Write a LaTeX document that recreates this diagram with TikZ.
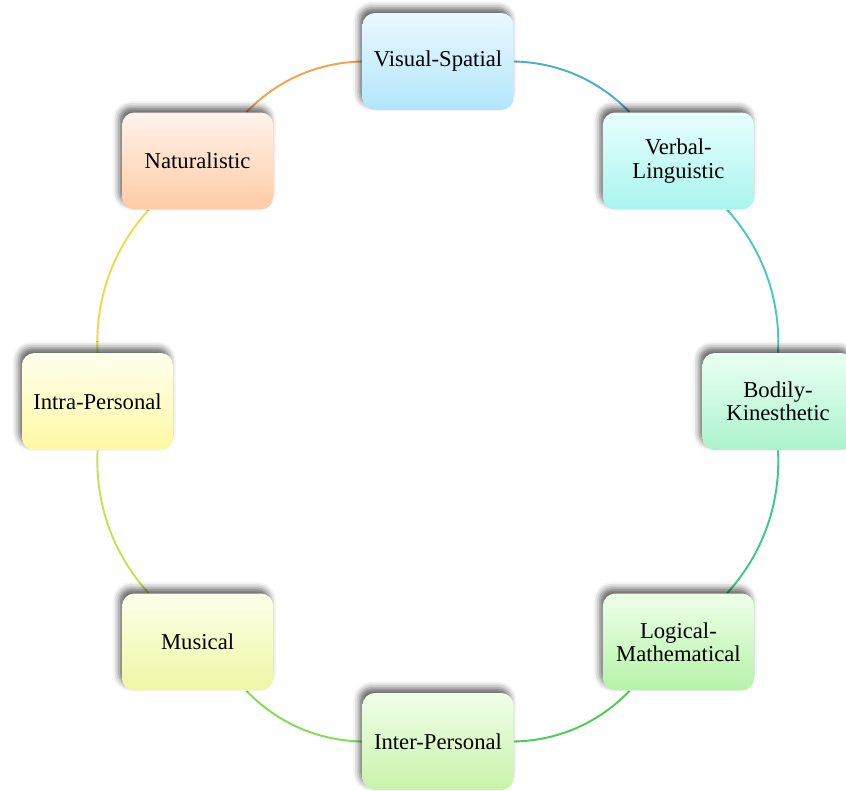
\documentclass[tikz,border=0pt]{standalone}
\usepackage{fontspec}
\setmainfont{Liberation Serif}
\usepackage{xcolor}
\usepackage{tikz}
\usetikzlibrary{backgrounds,shadows.blur}
\definecolor{visT}{HTML}{EAF8FF}\definecolor{visB}{HTML}{B2E6FC}
\definecolor{verT}{HTML}{E8FFFD}\definecolor{verB}{HTML}{A8F4EF}
\definecolor{bodT}{HTML}{EAFFF3}\definecolor{bodB}{HTML}{ABF3CC}
\definecolor{logT}{HTML}{EEFFE9}\definecolor{logB}{HTML}{B5F3A8}
\definecolor{intT}{HTML}{F0FFE8}\definecolor{intB}{HTML}{C8F3AA}
\definecolor{musT}{HTML}{FDFFEA}\definecolor{musB}{HTML}{EFF6A4}
\definecolor{itrT}{HTML}{FFFFEE}\definecolor{itrB}{HTML}{FFF9A2}
\definecolor{natT}{HTML}{FFF3EB}\definecolor{natB}{HTML}{FFCBA6}
\definecolor{lnatvis}{HTML}{F4A24C}
\definecolor{lvisver}{HTML}{4AAFC8}
\definecolor{lverbod}{HTML}{4CC8C0}
\definecolor{lbodlog}{HTML}{3EC98C}
\definecolor{llogint}{HTML}{4ACD55}
\definecolor{lintmus}{HTML}{80DF50}
\definecolor{lmusitr}{HTML}{C6E052}
\definecolor{litrnat}{HTML}{F0D84A}

\begin{document}
\begin{tikzpicture}[x=0.02cm,y=-0.02cm,font=\fontsize{12.9}{13.2}\selectfont,
        box/.style={rounded corners=7pt,minimum width=3.02cm,minimum height=1.94cm,align=center,
          blur shadow={shadow xshift=-1.8pt,shadow yshift=3pt,shadow blur radius=3.5pt,shadow opacity=60}},
        vis/.style={box,top color=visT,bottom color=visB},ver/.style={box,top color=verT,bottom color=verB},
        bod/.style={box,top color=bodT,bottom color=bodB},lgc/.style={box,top color=logT,bottom color=logB},
        itp/.style={box,top color=intT,bottom color=intB},mus/.style={box,top color=musT,bottom color=musB},
        itr/.style={box,top color=itrT,bottom color=itrB},nat/.style={box,top color=natT,bottom color=natB},
        con/.style={line width=1.1pt,bend left=22.5,looseness=0.9}]
        \useasboundingbox (0,0) rectangle (846,791);
        \node[vis] (visual) at (438,61.5) {Visual-Spatial};
        \node[ver] (verbal) at (678.4,161) {Verbal-\\Linguistic};
        \node[bod] (bodily) at (778,401.5) {Bodily-\\Kinesthetic};
        \node[lgc] (logical) at (678.4,642) {Logical-\\Mathematical};
        \node[itp] (inter) at (438,741.5) {Inter-Personal};
        \node[mus] (musical) at (197.6,642) {Musical};
        \node[itr] (intra) at (97.5,401.5) {Intra-Personal};
        \node[nat] (natural) at (197.6,161) {Naturalistic};
        \begin{scope}[on background layer]
          \draw[con,lnatvis] (natural) to (visual);
          \draw[con,lvisver] (visual) to (verbal);
          \draw[con,lverbod] (verbal) to (bodily);
          \draw[con,lbodlog] (bodily) to (logical);
          \draw[con,llogint] (logical) to (inter);
          \draw[con,lintmus] (inter) to (musical);
          \draw[con,lmusitr] (musical) to (intra);
          \draw[con,litrnat] (intra) to (natural);
        \end{scope}
      \end{tikzpicture}
\end{document}
